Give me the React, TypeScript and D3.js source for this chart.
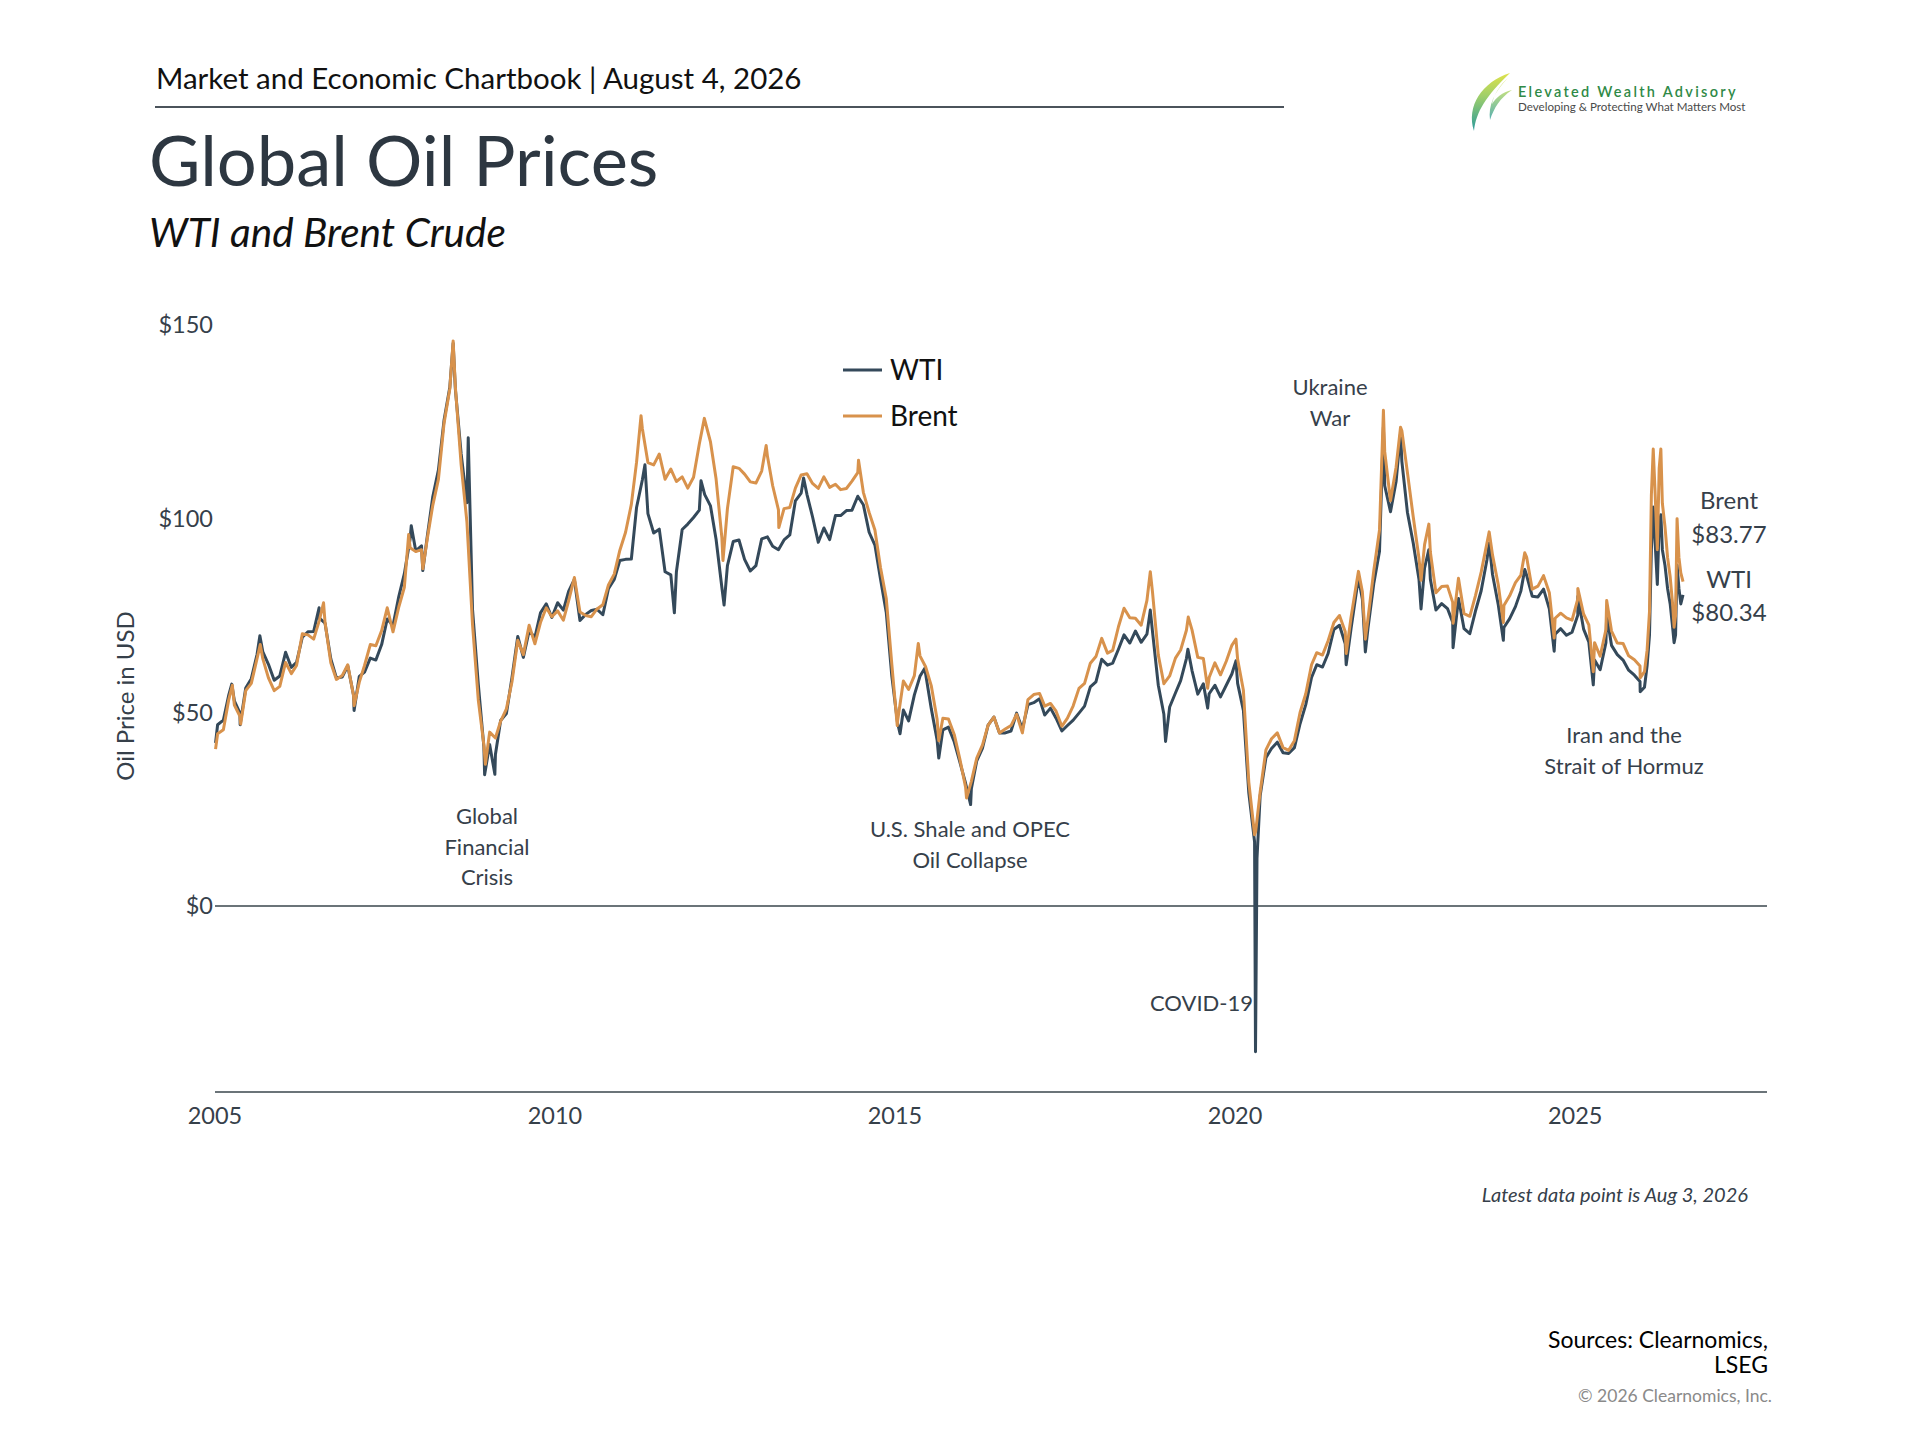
import React from 'react';
import * as d3 from 'd3';

// monthly values, Jan 2005 -> Dec 2025 (mid-month)
const wtiMonthly = [
  46.8, 48.0, 54.3, 53.0, 49.8, 56.3, 58.7, 65.0, 65.6, 62.4, 58.3, 59.4,
  65.5, 61.6, 62.9, 69.4, 70.8, 70.9, 74.4, 73.0, 63.8, 58.9, 59.1, 62.0,
  54.5, 59.3, 60.4, 64.0, 63.5, 67.5, 74.1, 72.4, 79.9, 85.8, 94.8, 91.7,
  93.0, 95.4, 105.5, 112.6, 125.4, 133.9, 133.4, 116.7, 104.1, 76.6, 57.3, 41.1,
  41.7, 39.1, 47.9, 49.7, 59.0, 69.6, 64.2, 71.0, 69.4, 75.7, 78.0, 74.5,
  78.3, 76.4, 81.2, 84.3, 73.7, 75.3, 76.3, 76.6, 75.2, 81.9, 84.3, 89.2,
  89.5, 89.6, 102.9, 110.0, 101.3, 96.3, 97.3, 86.3, 85.5, 86.3, 97.2, 98.6,
  100.3, 102.2, 106.2, 103.3, 94.7, 82.3, 87.9, 94.1, 94.5, 89.5, 86.5, 87.9,
  94.8, 95.3, 92.9, 92.0, 94.5, 95.8, 104.6, 106.6, 106.3, 100.5, 93.9, 97.6,
  94.6, 100.8, 100.8, 102.1, 102.2, 105.8, 103.6, 96.5, 93.2, 84.4, 75.8, 59.3,
  47.2, 50.6, 47.8, 54.5, 59.3, 59.8, 50.9, 42.9, 45.5, 46.2, 42.4, 37.2,
  31.7, 30.3, 37.5, 40.8, 46.7, 48.8, 44.7, 44.7, 45.2, 49.8, 45.7, 52.0,
  52.5, 53.5, 49.3, 51.1, 48.5, 45.2, 46.6, 48.0, 49.8, 51.6, 56.6, 57.9,
  63.7, 62.2, 62.7, 66.3, 70.0, 67.9, 71.0, 68.1, 70.2, 70.8, 57.0, 49.5,
  51.4, 55.0, 58.2, 63.9, 60.8, 54.7, 57.4, 54.8, 57.0, 54.0, 57.0, 59.9,
  57.5, 50.5, 29.2, 16.6, 28.5, 38.3, 40.7, 42.3, 39.6, 39.4, 40.9, 47.0,
  52.0, 59.0, 62.3, 61.7, 65.2, 71.4, 72.5, 67.7, 71.6, 81.5, 79.2, 71.7,
  83.2, 91.6, 108.5, 101.8, 109.6, 114.8, 101.6, 93.7, 84.3, 87.3, 84.4, 76.4,
  78.1, 76.8, 73.3, 79.4, 71.6, 70.3, 76.1, 81.4, 89.4, 85.6, 77.7, 71.9,
  74.2, 77.3, 81.3, 85.4, 80.0, 79.8, 81.8, 76.7, 70.2, 71.6, 69.9, 70.7,
  75.1, 71.5, 68.2, 63.5, 61.0, 68.0, 67.3, 64.9, 63.5, 60.9, 59.6, 58.0,
];

const brentMonthly = [
  44.5, 45.5, 53.1, 51.9, 49.0, 55.6, 57.5, 63.9, 63.8, 58.9, 55.6, 56.7,
  62.9, 60.0, 62.1, 70.3, 70.0, 68.9, 73.7, 73.2, 62.8, 58.5, 59.5, 62.3,
  54.3, 57.8, 62.1, 67.5, 67.2, 71.1, 77.0, 70.8, 77.2, 82.3, 92.5, 91.5,
  92.0, 94.8, 103.3, 110.2, 124.6, 133.5, 133.9, 113.9, 99.1, 72.7, 53.2, 41.6,
  44.9, 43.4, 47.7, 50.9, 57.9, 68.6, 64.9, 72.5, 67.7, 73.2, 77.0, 74.7,
  76.2, 73.8, 78.8, 84.8, 75.9, 75.0, 74.7, 76.7, 77.8, 82.9, 85.7, 91.8,
  96.5, 103.7, 114.6, 123.3, 114.5, 113.9, 116.7, 110.2, 112.8, 109.6, 110.8, 107.9,
  110.7, 119.3, 125.5, 119.8, 110.3, 95.2, 102.6, 113.4, 113.0, 111.5, 109.5, 109.2,
  112.3, 116.1, 108.5, 102.3, 102.6, 102.9, 107.9, 111.3, 111.6, 109.1, 107.8, 110.8,
  108.1, 108.9, 107.5, 107.8, 109.7, 111.9, 106.8, 101.6, 97.1, 87.4, 79.4, 62.3,
  47.8, 58.1, 55.9, 59.5, 64.6, 61.7, 56.8, 48.2, 48.5, 48.3, 44.3, 38.0,
  30.7, 32.2, 38.2, 41.6, 46.7, 48.8, 44.7, 45.7, 46.6, 49.5, 44.7, 53.3,
  54.6, 54.9, 51.6, 52.3, 50.3, 46.4, 48.5, 51.7, 56.2, 57.5, 62.7, 64.4,
  69.1, 65.3, 66.0, 72.1, 76.9, 74.4, 74.3, 72.5, 78.9, 81.0, 64.8, 57.4,
  59.4, 64.0, 66.1, 71.2, 71.3, 64.2, 63.9, 59.0, 62.8, 59.7, 63.2, 67.3,
  63.7, 55.7, 32.0, 18.4, 29.4, 40.3, 43.2, 44.7, 40.9, 40.2, 42.7, 49.9,
  54.8, 62.3, 65.4, 64.8, 68.5, 73.2, 75.0, 70.8, 74.5, 83.5, 81.1, 74.2,
  86.5, 97.1, 117.3, 104.6, 113.3, 122.7, 111.9, 100.5, 89.8, 93.3, 91.4, 80.9,
  82.5, 82.6, 78.4, 84.6, 75.5, 74.8, 80.1, 86.2, 93.7, 90.6, 82.9, 77.6,
  80.1, 83.5, 85.4, 90.1, 81.8, 82.6, 85.3, 80.9, 74.3, 75.6, 74.4, 73.8,
  79.3, 75.4, 72.6, 68.0, 64.5, 71.4, 71.0, 67.9, 67.8, 64.6, 63.6, 62.0,
];

// daily highs and lows visible in the picture
const wtiSpikeDates = [
  '2005-01-04', '2005-04-01', '2005-05-16', '2005-08-30', '2006-07-14', '2007-01-18', '2007-11-21', '2008-01-22',
  '2008-07-03', '2008-09-22', '2008-12-19', '2009-02-12', '2011-04-29', '2011-10-04', '2012-02-24', '2012-06-27',
  '2013-08-28', '2015-01-28', '2015-06-10', '2015-08-24', '2016-02-11', '2018-10-03', '2018-12-24', '2019-04-23',
  '2019-08-07', '2020-01-06', '2020-04-20', '2020-04-28', '2021-08-20', '2021-10-25', '2021-12-01', '2022-03-08',
  '2022-06-08', '2022-09-26', '2022-11-07', '2023-03-17', '2023-09-27', '2023-12-12', '2024-04-05', '2024-09-10',
  '2025-01-15', '2025-04-08', '2025-06-19', '2025-12-16',
];
const wtiSpikeValues = [
  42.1, 57.3, 46.8, 69.8, 77.0, 50.5, 98.2, 86.6,
  145.3, 120.9, 33.9, 34.0, 113.9, 75.7, 109.8, 77.7,
  110.5, 44.5, 61.4, 38.2, 26.2, 76.4, 42.5, 66.3,
  51.1, 63.3, -37.6, 12.3, 62.3, 84.7, 65.6, 123.7,
  122.1, 76.7, 92.0, 66.7, 93.7, 68.6, 86.9, 65.8,
  80.0, 57.1, 75.1, 55.3,
];
const brentSpikeDates = [
  '2005-01-04', '2005-04-04', '2005-05-19', '2005-09-01', '2006-08-07', '2007-01-18', '2007-11-07', '2008-01-22',
  '2008-07-03', '2008-12-23', '2011-04-08', '2012-03-13', '2012-06-21', '2013-02-08', '2013-04-17', '2014-06-19',
  '2015-01-13', '2015-05-06', '2015-08-24', '2016-01-20', '2018-10-03', '2019-04-25', '2019-08-07', '2020-01-06',
  '2020-04-21', '2021-08-20', '2021-10-25', '2021-12-01', '2022-03-08', '2022-06-08', '2022-09-26', '2022-11-07',
  '2023-03-17', '2023-09-27', '2023-12-12', '2024-04-05', '2024-09-10', '2025-01-15', '2025-04-08', '2025-06-19',
  '2025-12-16',
];
const brentSpikeValues = [
  40.5, 57.0, 47.0, 67.5, 78.3, 51.7, 95.9, 87.1,
  145.9, 36.6, 126.6, 125.9, 89.2, 118.9, 97.7, 115.1,
  46.6, 67.8, 42.7, 27.9, 86.3, 74.6, 56.2, 68.9,
  19.3, 65.2, 86.4, 68.9, 128.0, 123.6, 84.1, 98.6,
  73.0, 96.6, 73.2, 91.2, 69.2, 82.0, 60.5, 78.9,
  58.9,
];

// 2026 path
const dates2026 = ['2026-01-08', '2026-01-22', '2026-02-04', '2026-02-14', '2026-02-24', '2026-03-05', '2026-03-18', '2026-03-28', '2026-04-06', '2026-04-14', '2026-04-28', '2026-05-12', '2026-05-26', '2026-06-08', '2026-06-16', '2026-06-24', '2026-07-02', '2026-07-12', '2026-07-22', '2026-08-03'];
const wti2026 = [56.5, 62, 70, 92, 103, 95, 83, 99, 101, 92, 88, 82, 78, 72, 68, 70, 88, 82, 78, 80.34];
const brent2026 = [60.5, 66, 76, 106, 118, 108, 92, 113, 118, 104, 98, 90, 85, 78, 72, 75, 100, 90, 86, 83.77];

const yTicks = [0, 50, 100, 150];
const xTickYears = [2005, 2010, 2015, 2020, 2025];

const annotations = [
  { lines: ['Global', 'Financial', 'Crisis'], x: 487, y: 824, anchor: 'middle' },
  { lines: ['U.S. Shale and OPEC', 'Oil Collapse'], x: 970, y: 837, anchor: 'middle' },
  { lines: ['COVID-19'], x: 1253, y: 1011, anchor: 'end' },
  { lines: ['Ukraine', 'War'], x: 1330, y: 395, anchor: 'middle' },
  { lines: ['Iran and the', 'Strait of Hormuz'], x: 1624, y: 743, anchor: 'middle' },
];

const FONT = 'Lato, "Noto Sans", sans-serif';
const WTI_COLOR = '#34495a';
const BRENT_COLOR = '#d8924c';
const TEXT = '#36404a';

type Pt = { date: Date; v: number };

const parse = d3.timeParse('%Y-%m-%d');

function buildSeries(monthly: number[], spikeDates: string[], spikeVals: number[], d26: string[], v26: number[]): Pt[] {
  const pts: Pt[] = monthly.map((v, i) => ({ date: new Date(2005 + Math.floor(i / 12), i % 12, 15), v }));
  spikeDates.forEach((d, i) => pts.push({ date: parse(d)!, v: spikeVals[i] }));
  d26.forEach((d, i) => pts.push({ date: parse(d)!, v: v26[i] }));
  return pts.sort((a, b) => +a.date - +b.date);
}

const wti = buildSeries(wtiMonthly, wtiSpikeDates, wtiSpikeValues, dates2026, wti2026);
const brent = buildSeries(brentMonthly, brentSpikeDates, brentSpikeValues, dates2026, brent2026);

const x = d3.scaleTime().domain([new Date(2005, 0, 1), new Date(2027, 9, 28)]).range([215, 1767]);
const y = d3.scaleLinear().domain([-48, 150]).range([1092, 325]);

const line = d3.line<Pt>().x((d) => x(d.date)).y((d) => y(d.v));

const Logo = () => (
  <g>
    <defs>
      <linearGradient id="leaf" x1="0" y1="0" x2="0" y2="1">
        <stop offset="0%" stopColor="#dfe24a" />
        <stop offset="40%" stopColor="#9fcf6a" />
        <stop offset="100%" stopColor="#2a9a9c" />
      </linearGradient>
    </defs>
    <path d="M1510,73 C1482,82 1466,106 1474,131 C1476,112 1486,96 1510,73 Z" fill="url(#leaf)" />
    <path d="M1508,78 C1494,92 1488,106 1490,120 C1494,108 1500,98 1512,90 C1502,92 1496,98 1492,104 C1494,94 1500,85 1508,78 Z" fill="url(#leaf)" opacity={0.8} />
    <text x={1518} y={97} fontFamily={FONT} fontSize={14.5} fill="#2f8a47" letterSpacing={2.3} fontWeight={600}>Elevated Wealth Advisory</text>
    <text x={1518} y={111} fontFamily={FONT} fontSize={11.6} fill="#4a4a4a">Developing &amp; Protecting What Matters Most</text>
  </g>
);

export default function App() {
  return (
    <div style={{ position: 'absolute', left: 0, top: 0 }}>
      <svg width={1920} height={1440} style={{ display: 'block', background: '#fff' }}>
        <text x={156} y={89} fontFamily={FONT} fontSize={29.5} fill="#111">Market and Economic Chartbook | August 4, 2026</text>
        <line x1={155} x2={1284} y1={107} y2={107} stroke="#4b535b" strokeWidth={2} />
        <text x={149} y={186} fontFamily={FONT} fontSize={70.5} fill="#2d3741">Global Oil Prices</text>
        <text x={149} y={247} fontFamily={FONT} fontSize={40.5} fontStyle="italic" fill="#111">WTI and Brent Crude</text>
        <Logo />

        {/* axis lines */}
        <line x1={215} x2={1767} y1={y(0)} y2={y(0)} stroke="#6b7479" strokeWidth={2} />
        <line x1={215} x2={1767} y1={1092} y2={1092} stroke="#6b7479" strokeWidth={2} />

        {yTicks.map((t) => (
          <text key={t} x={213} y={y(t)} dy="0.35em" textAnchor="end" fontFamily={FONT} fontSize={23.5} fill={TEXT}>${t}</text>
        ))}
        {xTickYears.map((yr) => (
          <text key={yr} x={x(new Date(yr, 0, 1))} y={1124} textAnchor="middle" fontFamily={FONT} fontSize={23.5} fill={TEXT}>{yr}</text>
        ))}
        <text transform="translate(134,696) rotate(-90)" textAnchor="middle" fontFamily={FONT} fontSize={24} fill={TEXT}>Oil Price in USD</text>

        <path d={line(wti) ?? ''} fill="none" stroke={WTI_COLOR} strokeWidth={3} strokeLinejoin="round" />
        <path d={line(brent) ?? ''} fill="none" stroke={BRENT_COLOR} strokeWidth={3} strokeLinejoin="round" />

        {/* legend */}
        <line x1={843} x2={882} y1={370} y2={370} stroke={WTI_COLOR} strokeWidth={3} />
        <text x={890} y={370} dy="0.35em" fontFamily={FONT} fontSize={28} fill="#111">WTI</text>
        <line x1={843} x2={882} y1={416} y2={416} stroke={BRENT_COLOR} strokeWidth={3} />
        <text x={890} y={416} dy="0.35em" fontFamily={FONT} fontSize={28} fill="#111">Brent</text>

        {annotations.map((a, i) => (
          <text key={i} x={a.x} y={a.y} textAnchor={a.anchor as any} fontFamily={FONT} fontSize={22} fill={TEXT}>
            {a.lines.map((l, j) => (
              <tspan key={j} x={a.x} dy={j === 0 ? 0 : 30.5}>{l}</tspan>
            ))}
          </text>
        ))}

        {/* end labels */}
        <g fontFamily={FONT} fontSize={24} fill={TEXT} textAnchor="middle">
          <text x={1729} y={509}>Brent</text>
          <text x={1729} y={543}>${brent[brent.length - 1].v.toFixed(2)}</text>
          <text x={1729} y={588}>WTI</text>
          <text x={1729} y={621}>${wti[wti.length - 1].v.toFixed(2)}</text>
        </g>

        <text x={1748} y={1202} textAnchor="end" fontFamily={FONT} fontSize={20} fontStyle="italic" fill={TEXT}>Latest data point is Aug 3, 2026</text>

        <text x={1768} y={1348} textAnchor="end" fontFamily={FONT} fontSize={23} fill="#000">Sources: Clearnomics,</text>
        <text x={1768} y={1373} textAnchor="end" fontFamily={FONT} fontSize={23} fill="#000">LSEG</text>
        <text x={1772} y={1402} textAnchor="end" fontFamily={FONT} fontSize={17.5} fill="#8a8a8a">© 2026 Clearnomics, Inc.</text>
      </svg>
    </div>
  );
}
